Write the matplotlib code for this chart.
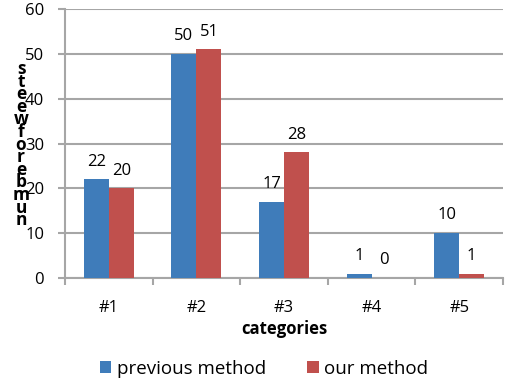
import numpy as np
import matplotlib.pyplot as plt

categories = ['#1', '#2', '#3', '#4', '#5']
previous_method = [22, 50, 17, 1, 10]
our_method = [20, 51, 28, 0, 1]
ylabel_letters = list('steewforebmun')

W, H = 508, 381
fig = plt.figure(figsize=(W / 100, H / 100), dpi=100)
plt.rcParams['font.family'] = ['Open Sans', 'DejaVu Sans']

ax = fig.add_axes([65 / W, 1 - 278 / H, (503 - 65) / W, (278 - 9) / H])

blue = '#3F7CBA'
red = '#C0504D'
grid = '#A6A6A6'

x = np.arange(len(categories))
bw = 0.285
b1 = ax.bar(x - bw / 2, previous_method, bw, color=blue, zorder=3)
b2 = ax.bar(x + bw / 2, our_method, bw, color=red, zorder=3)

for bars, vals in [(b1, previous_method), (b2, our_method)]:
    for b, v in zip(bars, vals):
        ax.annotate(str(v), (b.get_x() + b.get_width() / 2, v),
                    xytext=(0, 7), textcoords='offset points',
                    ha='center', va='bottom', fontsize=12)

ax.set_xlim(-0.5, len(categories) - 0.5)
ax.set_ylim(0, 60)
ax.set_yticks(range(0, 61, 10))
ax.yaxis.grid(True, color=grid, linewidth=1.5, zorder=0)
ax.set_axisbelow(True)

ax.set_xticks(x)
ax.set_xticklabels(categories, fontsize=12)
ax.set_xticks(np.arange(-0.5, len(categories), 1), minor=True)
ax.tick_params(axis='x', which='major', length=0, pad=16)
ax.tick_params(axis='x', which='minor', length=5, width=1.5, color=grid)
ax.tick_params(axis='y', length=5, width=1.5, color=grid, labelsize=12, pad=10)

for s in ['top', 'right']:
    ax.spines[s].set_visible(False)
for s in ['left', 'bottom']:
    ax.spines[s].set_color(grid)
    ax.spines[s].set_linewidth(1.5)

ax.set_xlabel('categories', fontsize=12, fontweight='bold', labelpad=3)

# stacked y label letters, as in the original
top, step = 69, 12.6
for i, ch in enumerate(ylabel_letters):
    fig.text(21 / W, 1 - (top + i * step) / H, ch, ha='center', va='center',
             fontsize=12.5, fontweight='bold')

fig.legend([b1, b2], ['previous method', 'our method'], loc='center',
           bbox_to_anchor=(0.52, 1 - 369 / H), ncol=2, frameon=False,
           fontsize=13.5, handlelength=0.6, handleheight=0.6,
           handletextpad=0.3, columnspacing=2.2)

fig.savefig('out.png', dpi=100)
